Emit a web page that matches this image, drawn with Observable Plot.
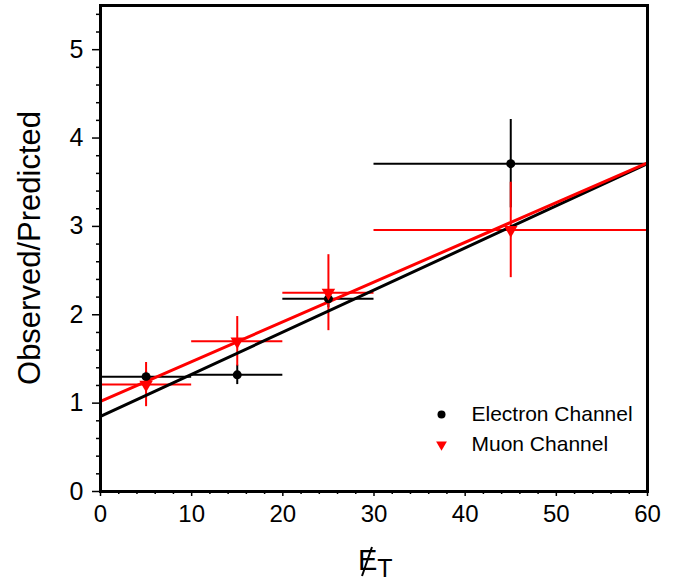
<!DOCTYPE html>
<html><head><meta charset="utf-8">
<script src="https://cdn.jsdelivr.net/npm/d3@7"></script>
<script src="https://cdn.jsdelivr.net/npm/@observablehq/plot@0.6"></script>
<style>body{margin:0;background:#fff}</style>
</head><body><div id="chart"></div>
<script>
// Data
const binCenter = [5, 15, 25, 45];
const binLow = [0, 10, 20, 30];
const binHigh = [10, 20, 30, 60];
const electronRatio = [1.30, 1.32, 2.18, 3.71];
const electronErr = [0.06, 0.11, 0.10, 0.50];
const muonRatio = [1.21, 1.70, 2.25, 2.96];
const muonErr = [0.25, 0.28, 0.43, 0.54];
// Linear fits (value at x = 0 and x = 60)
const fitX = [0, 60];
const electronFit = [0.85, 3.71];
const muonFit = [1.02, 3.72];
// Axis ticks
const xTicks = [0, 10, 20, 30, 40, 50, 60];
const xMinor = [2,4,6,8,12,14,16,18,22,24,26,28,32,34,36,38,42,44,46,48,52,54,56,58];
const yTicks = [0, 1, 2, 3, 4, 5];
const yMinor = [0.2,0.4,0.6,0.8,1.2,1.4,1.6,1.8,2.2,2.4,2.6,2.8,3.2,3.4,3.6,3.8,4.2,4.4,4.6,4.8,5.2,5.4];
const seriesNames = ["Electron Channel", "Muon Channel"];

const electron = binCenter.map((x, i) => ({x, lo: binLow[i], hi: binHigh[i], y: electronRatio[i], e: electronErr[i]}));
const muon = binCenter.map((x, i) => ({x, lo: binLow[i], hi: binHigh[i], y: muonRatio[i], e: muonErr[i]}));
const eFit = fitX.map((x, i) => ({x, y: electronFit[i]}));
const mFit = fitX.map((x, i) => ({x, y: muonFit[i]}));

const font = "'Liberation Sans', Arial, Helvetica, sans-serif";
const plot = Plot.plot({
  width: 681, height: 582,
  marginLeft: 100, marginRight: 34, marginTop: 5, marginBottom: 91,
  style: {fontFamily: font, background: "white", color: "black"},
  x: {domain: [0, 60]},
  y: {domain: [0, 5.5]},
  marks: [
    Plot.axisY(yMinor, {tickSize: 4, text: null, label: null, strokeWidth: 1.5}),
    Plot.axisY(yTicks, {tickSize: 8, tickPadding: 9, fontSize: 25, tickFormat: d3.format("d"), label: null, strokeWidth: 1.5}),
    Plot.axisX(xMinor, {tickSize: 3, text: null, label: null, strokeWidth: 1.5}),
    Plot.axisX(xTicks, {tickSize: 5, tickPadding: 8, fontSize: 24, tickFormat: d3.format("d"), label: null, strokeWidth: 1.5}),
    // electron error bars
    Plot.ruleY(electron, {y: "y", x1: "lo", x2: "hi", stroke: "black", strokeWidth: 2}),
    Plot.ruleX(electron, {x: "x", y1: d => d.y - d.e, y2: d => d.y + d.e, stroke: "black", strokeWidth: 2}),
    // muon error bars
    Plot.ruleY(muon, {y: "y", x1: "lo", x2: "hi", stroke: "#ff0000", strokeWidth: 2}),
    Plot.ruleX(muon, {x: "x", y1: d => d.y - d.e, y2: d => d.y + d.e, stroke: "#ff0000", strokeWidth: 2}),
    // fits
    Plot.line(eFit, {x: "x", y: "y", stroke: "black", strokeWidth: 3}),
    Plot.line(mFit, {x: "x", y: "y", stroke: "#ff0000", strokeWidth: 3}),
    // markers
    Plot.dot(electron, {x: "x", y: "y", r: 4.5, fill: "black", stroke: "none"}),
    Plot.dot(muon, {x: "x", y: "y", r: 5, symbol: "triangle", rotate: 180, fill: "#ff0000", stroke: "none"}),
    // legend
    Plot.dot([seriesNames[0]], {frameAnchor: "top-left", dx: 341, dy: 409, r: 4, fill: "black", stroke: "none"}),
    Plot.dot([seriesNames[1]], {frameAnchor: "top-left", dx: 341, dy: 439, r: 4, symbol: "triangle", rotate: 180, fill: "#ff0000", stroke: "none"}),
    Plot.text([seriesNames[0]], {text: d => d, frameAnchor: "top-left", lineAnchor: "middle", dx: 371, dy: 409, textAnchor: "start", fontSize: 21, fill: "black"}),
    Plot.text([seriesNames[1]], {text: d => d, frameAnchor: "top-left", lineAnchor: "middle", dx: 371, dy: 439, textAnchor: "start", fontSize: 21, fill: "black"}),
    Plot.frame({stroke: "black", strokeWidth: 3})
  ]
});

const svg = d3.select(plot);
svg.append("text")
  .attr("transform", "translate(40,248) rotate(-90)")
  .attr("text-anchor", "middle")
  .attr("font-family", font)
  .attr("font-size", 31)
  .attr("fill", "black")
  .text("Observed/Predicted");
// x title: E-slash with subscript T
const xt = svg.append("text")
  .attr("x", 358).attr("y", 570)
  .attr("text-anchor", "start")
  .attr("font-family", font)
  .attr("font-size", 29)
  .attr("fill", "black");
xt.append("tspan").text("E");
xt.append("tspan").attr("dy", 7).attr("font-size", 25).text("T");
svg.append("path")
  .attr("d", "M372,547L362,576")
  .attr("stroke", "black").attr("stroke-width", 2).attr("fill", "none");

document.getElementById("chart").appendChild(plot);
</script>
</body></html>
